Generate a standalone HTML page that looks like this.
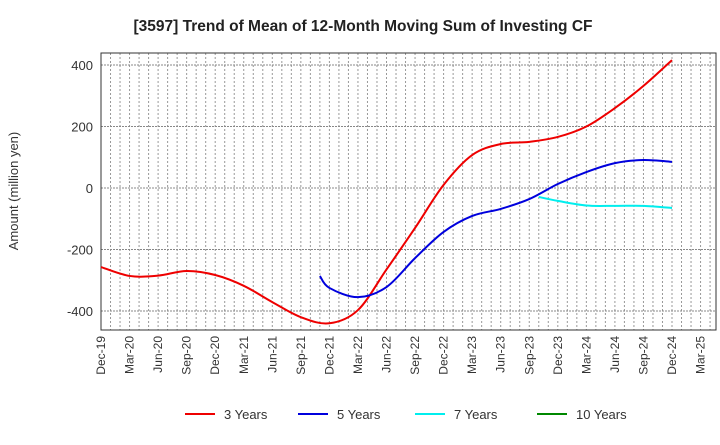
<!DOCTYPE html>
<html><head><meta charset="utf-8"><style>
body{margin:0;background:#fff;font-family:"Liberation Sans",sans-serif}
svg text{font-family:"Liberation Sans",sans-serif}
</style></head><body>
<svg id="c" width="720" height="440"></svg>
<script>
const xLabels=["Dec-19","Mar-20","Jun-20","Sep-20","Dec-20","Mar-21","Jun-21","Sep-21","Dec-21","Mar-22","Jun-22","Sep-22","Dec-22","Mar-23","Jun-23","Sep-23","Dec-23","Mar-24","Jun-24","Sep-24","Dec-24","Mar-25"];
const yTicks=[-400,-200,0,200,400];
const m3=[0,3,6,9,12,15,18,21,24,27,30,33,36,39,42,45,48,51,54,57,60];
const v3=[-257,-286,-285,-270,-283,-318,-371,-420,-440,-397,-265,-130,10,107,143,150,166,200,260,332,416];
const m5=[23,24,27,30,33,36,39,42,45,48,51,54,57,60];
const v5=[-286,-325,-355,-322,-228,-143,-91,-68,-36,13,52,81,91,85];
const m7=[46,48,51,54,57,60];
const v7=[-29,-42,-57,-58,-58,-65];
const legendNames=["3 Years","5 Years","7 Years","10 Years"];
const legendColors=["#ee0000","#0000dd","#00eeee","#008800"];
const L=101,R=716,T=53,B=330;
const xs=m=>L+m*28.55/3;
const ys=v=>188-v*0.3075;
const svg=document.getElementById('c');
const NS="http://www.w3.org/2000/svg";
function mk(t,a,p){const e=document.createElementNS(NS,t);for(const k in a)e.setAttribute(k,a[k]);(p||svg).appendChild(e);return e;}
let e=mk('text',{x:363,y:31,'text-anchor':'middle','font-size':15.5,'font-weight':'bold',fill:'#222'});e.textContent="[3597]  Trend of Mean of 12-Month Moving Sum of Investing CF";

for(let m=1;xs(m)<R;m++){e=mk('line',{x1:xs(m),x2:xs(m),y1:T,y2:B,stroke:'#999','stroke-dasharray':'2,2','stroke-width':1});
}
yTicks.forEach(v=>{e=mk('line',{x1:L,x2:R,y1:ys(v),y2:ys(v),stroke:'#888','stroke-dasharray':'2,1','stroke-width':1});

e=mk('text',{x:L-8,y:ys(v)+5,'text-anchor':'end','font-size':13,fill:'#333'});e.textContent=v;
});
e=mk('rect',{x:L,y:T,width:R-L,height:B-T,fill:'none',stroke:'#333'});

xLabels.forEach((s,i)=>{const x=xs(i*3);e=mk('text',{transform:`translate(${x+4},${B+6}) rotate(-90)`,'text-anchor':'end','font-size':12,fill:'#333'});e.textContent=s;
});
e=mk('text',{transform:'translate(18,191) rotate(-90)','text-anchor':'middle','font-size':13,fill:'#333'});e.textContent="Amount (million yen)";

function path(ms,vs){const p=ms.map((m,i)=>[xs(m),ys(vs[i])]);let d=`M${p[0][0]},${p[0][1]}`;
for(let i=0;i<p.length-1;i++){const p0=p[i-1]||p[i],p1=p[i],p2=p[i+1],p3=p[i+2]||p2;
d+=`C${p1[0]+(p2[0]-p0[0])/6},${p1[1]+(p2[1]-p0[1])/6} ${p2[0]-(p3[0]-p1[0])/6},${p2[1]-(p3[1]-p1[1])/6} ${p2[0]},${p2[1]}`;}return d;}
[[m3,v3,0],[m5,v5,1],[m7,v7,2]].forEach(([m,v,k])=>{e=mk('path',{d:path(m,v),fill:'none',stroke:legendColors[k],'stroke-width':2});
});
const lx=[185,298,415,537];
legendNames.forEach((n,i)=>{const g=mk('g',{});
mk('line',{x1:lx[i],x2:lx[i]+30,y1:414,y2:414,stroke:legendColors[i],'stroke-width':2},g);
const t=mk('text',{x:lx[i]+39,y:419,'font-size':13,fill:'#333'},g);t.textContent=n;});
</script>
</body></html>
